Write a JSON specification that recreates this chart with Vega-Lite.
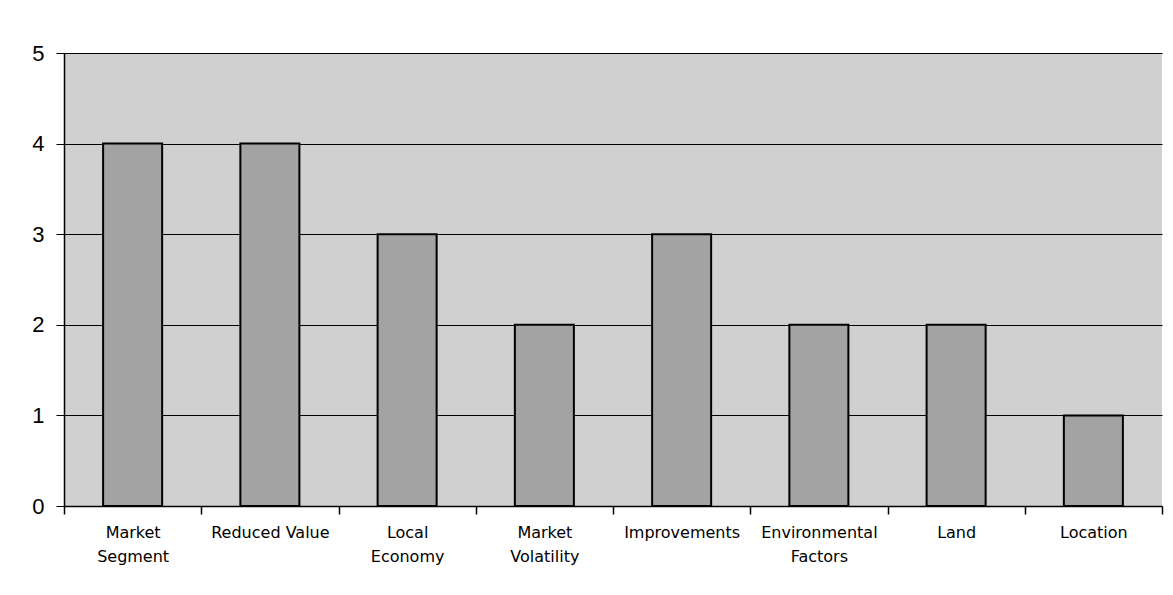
{
  "$schema": "https://vega.github.io/schema/vega-lite/v6.json",
  "width": 1098,
  "height": 453,
  "autosize": {"type": "none"},
  "padding": {"left": 64, "top": 53, "right": 11, "bottom": 89},
  "background": "white",
  "data": {
    "values": [
      {"factor": "Market Segment", "count": 4},
      {"factor": "Reduced Value", "count": 4},
      {"factor": "Local Economy", "count": 3},
      {"factor": "Market Volatility", "count": 2},
      {"factor": "Improvements", "count": 3},
      {"factor": "Environmental Factors", "count": 2},
      {"factor": "Land", "count": 2},
      {"factor": "Location", "count": 1}
    ]
  },
  "mark": {"type": "bar", "fill": "#a3a3a3", "stroke": "black", "strokeWidth": 2, "width": {"band": 0.43}},
  "encoding": {
    "x": {
      "field": "factor",
      "type": "nominal",
      "sort": null,
      "scale": {"paddingInner": 0, "paddingOuter": 0},
      "axis": {
        "title": null,
        "labelAngle": 0,
        "tickBand": "extent",
        "tickSize": 8,
        "tickWidth": 1.5,
        "tickColor": "black",
        "domainColor": "black",
        "domainWidth": 1.5,
        "labelFont": "DejaVu Sans",
        "labelFontSize": 16,
        "labelLineHeight": 24,
        "labelPadding": 10,
        "labelColor": "black",
        "labelExpr": "!isValid(datum.value) ? '' : (datum.value == 'Reduced Value' ? datum.value : split(datum.value, ' '))"
      }
    },
    "y": {
      "field": "count",
      "type": "quantitative",
      "scale": {"domain": [0, 5], "nice": false},
      "axis": {
        "title": null,
        "values": [0, 1, 2, 3, 4, 5],
        "grid": true,
        "gridColor": "black",
        "gridOpacity": 1,
        "gridWidth": 1,
        "domainColor": "black",
        "domainWidth": 1.5,
        "tickColor": "black",
        "tickSize": 8,
        "labelFont": "Liberation Sans",
        "labelFontSize": 22,
        "labelColor": "black",
        "labelPadding": 12
      }
    }
  },
  "config": {"view": {"fill": "#d0d0d0", "stroke": null}}
}
